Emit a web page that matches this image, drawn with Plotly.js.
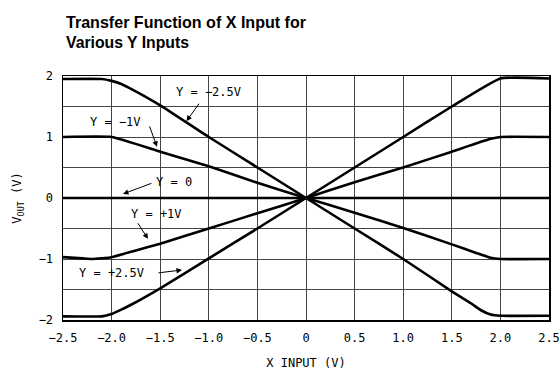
<!DOCTYPE html>
<html>
<head>
<meta charset="utf-8">
<script src="https://cdn.plot.ly/plotly-3.0.1.min.js"></script>
<style>html,body{margin:0;padding:0;background:#fff;}#chart{width:560px;height:370px;}</style>
</head>
<body>
<div id="chart"></div>
<script>
// Data
const xM25 = [-2.5, -2.1, -2.0, -1.9, -1.8, -1.5, -1.0, -0.5, 0, 0.5, 1.0, 1.5, 1.7, 1.8, 1.9, 2.0, 2.5];
const yM25 = [1.95, 1.95, 1.92, 1.87, 1.79, 1.52, 1.0, 0.5, 0, -0.5, -1.0, -1.53, -1.73, -1.84, -1.91, -1.93, -1.93];

const xM1 = [-2.5, -2.0, -1.5, -1.0, -0.5, 0, 0.5, 1.0, 1.5, 1.75, 1.9, 2.0, 2.5];
const yM1 = [1.0, 1.0, 0.76, 0.52, 0.25, 0, -0.24, -0.49, -0.76, -0.9, -0.98, -1.0, -1.0];

const xZero = [-2.5, 0, 2.5];
const yZero = [0, 0, 0];

const xP1 = [-2.5, -2.3, -2.2, -2.0, -1.75, -1.5, -1.0, -0.5, 0, 0.5, 1.0, 1.5, 1.9, 2.0, 2.5];
const yP1 = [-0.97, -0.99, -1.0, -0.97, -0.86, -0.75, -0.5, -0.25, 0, 0.26, 0.5, 0.76, 0.97, 1.0, 1.0];

const xP25 = [-2.5, -2.1, -2.0, -1.9, -1.8, -1.5, -1.0, -0.5, 0, 0.5, 1.0, 1.5, 2.0, 2.5];
const yP25 = [-1.94, -1.94, -1.9, -1.83, -1.75, -1.48, -0.99, -0.5, 0, 0.5, 1.0, 1.5, 1.96, 1.96];

const xTicks = [-2.5, -2.0, -1.5, -1.0, -0.5, 0, 0.5, 1.0, 1.5, 2.0, 2.5];
const xTickText = ["\u22122.5", "\u22122.0", "\u22121.5", "\u22121.0", "\u22120.5", "0", "0.5", "1.0", "1.5", "2.0", "2.5"];
const yTicks = [-2, -1.5, -1, -0.5, 0, 0.5, 1, 1.5, 2];
const yTickText = ["\u22122", " ", "\u22121", " ", "0", " ", "1", " ", "2"];

const titleLines = ["Transfer Function of X Input for", "Various Y Inputs"];

// curve labels: text centre, arrow tail and arrow head (data coords)
const labels = ["Y = \u22122.5V", "Y = \u22121V", "Y = 0", "Y = +1V", "Y = +2.5V"];
const labelX = [-1.00, -1.96, -1.36, -1.54, -2.00];
const labelY = [1.74, 1.25, 0.26, -0.26, -1.23];
const tailX = [-1.09, -1.615, -1.574, -1.739, -1.533];
const tailY = [1.57, 1.20, 0.25, -0.39, -1.23];
const headX = [-1.23, -1.533, -1.883, -1.626, -1.276];
const headY = [1.26, 0.84, 0.066, -0.67, -1.18];

const mono = "DejaVu Sans Mono, Liberation Mono, monospace";
const lineStyle = {color: "#000", width: 2.6, shape: "spline", smoothing: 0.4};

const traces = [
  {x: xM25, y: yM25}, {x: xM1, y: yM1}, {x: xZero, y: yZero}, {x: xP1, y: yP1}, {x: xP25, y: yP25}
].map(t => Object.assign(t, {type: "scatter", mode: "lines", line: lineStyle, hoverinfo: "skip", showlegend: false}));

const annotations = [];
labels.forEach((txt, i) => {
  annotations.push({
    x: labelX[i], y: labelY[i], xref: "x", yref: "y", text: txt, showarrow: false,
    xanchor: "center", yanchor: "middle", bgcolor: "rgba(255,255,255,0)",
    font: {family: mono, size: 12, color: "#000"}
  });
  annotations.push({
    x: headX[i], y: headY[i], xref: "x", yref: "y",
    ax: tailX[i], ay: tailY[i], axref: "x", ayref: "y",
    text: "", showarrow: true, arrowhead: 2, arrowsize: 1.1, arrowwidth: 1, arrowcolor: "#000", standoff: 0
  });
});

// title lines (paper coords: plot area spans y 76..320 px)
const titleFont = {family: "Liberation Sans Narrow, Liberation Sans, Arial, sans-serif", size: 17, color: "#000"};
annotations.push({
  x: 0.002, y: (320 - 11) / 244, xref: "paper", yref: "paper", xanchor: "left", yanchor: "top", align: "left",
  text: "<b>" + titleLines[0] + "</b>", showarrow: false, font: titleFont
});
annotations.push({
  x: 0.002, y: (320 - 30.5) / 244, xref: "paper", yref: "paper", xanchor: "left", yanchor: "top", align: "left",
  text: "<b>" + titleLines[1] + "</b>", showarrow: false, font: titleFont
});

const layout = {
  width: 560, height: 370,
  margin: {l: 63, r: 11, t: 76, b: 50, pad: 0},
  paper_bgcolor: "#fff", plot_bgcolor: "#fff",
  xaxis: {
    range: [-2.5, 2.5], tickmode: "array", tickvals: xTicks, ticktext: xTickText,
    showgrid: true, gridcolor: "#444", gridwidth: 1, zeroline: false,
    showline: true, linecolor: "#000", linewidth: 1.5, mirror: true, ticks: "",
    tickfont: {family: mono, size: 12, color: "#000"}, ticklabelstandoff: 6,
    title: {text: "X INPUT (V)", font: {family: mono, size: 12, color: "#000"}, standoff: 14}
  },
  yaxis: {
    range: [-2, 2], tickmode: "array", tickvals: yTicks, ticktext: yTickText,
    showgrid: true, gridcolor: "#444", gridwidth: 1, zeroline: false,
    showline: true, linecolor: "#000", linewidth: 1.5, mirror: true, ticks: "",
    tickfont: {family: mono, size: 12, color: "#000"}, ticklabelstandoff: 6,
    title: {text: "V<sub>OUT</sub> (V)", font: {family: mono, size: 12, color: "#000"}, standoff: 14}
  },
  annotations: annotations
};

const titleWidths = [240, 123];
Plotly.newPlot("chart", traces, layout, {displayModeBar: false, staticPlot: true}).then(gd => {
  // condense the bold title to the narrow face of the reference
  gd.querySelectorAll("text.annotation-text").forEach(t => {
    const idx = titleLines.indexOf(t.textContent);
    if (idx >= 0) {
      t.setAttribute("textLength", titleWidths[idx]);
      t.setAttribute("lengthAdjust", "spacingAndGlyphs");
      t.querySelectorAll("tspan").forEach(s => {
        s.setAttribute("textLength", titleWidths[idx]);
        s.setAttribute("lengthAdjust", "spacingAndGlyphs");
      });
    }
  });
});
</script>
</body>
</html>
